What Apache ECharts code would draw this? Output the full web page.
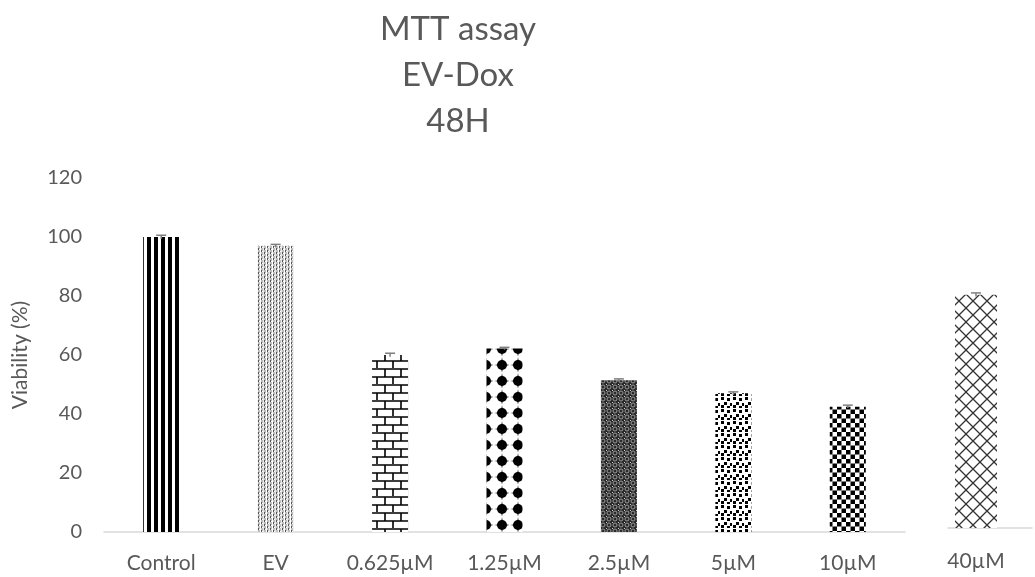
<!DOCTYPE html>
<html>
<head>
<meta charset="utf-8">
<script src="https://cdn.jsdelivr.net/npm/echarts@6/dist/echarts.min.js"></script>
<style>html,body{margin:0;padding:0;background:#fff;}#c{width:1035px;height:577px;}</style>
</head>
<body>
<div id="c"></div>
<script>
// ---- data ----
const titleLines = ['MTT assay', 'EV-Dox', '48H'];
const categories = ['Control', 'EV', '0.625µM', '1.25µM', '2.5µM', '5µM', '10µM', '40µM'];
const viability = [100, 97, 60, 62.2, 51.4, 47, 42.5, 80];
const errors = [0.6, 0.5, 0.6, 0.4, 0.5, 0.5, 0.5, 0.6];
const yTicks = [0, 20, 40, 60, 80, 100, 120];
const yAxisName = 'Viability (%)';

// ---- patterns ----
function pat(w, h, draw) {
  const c = document.createElement('canvas');
  c.width = w; c.height = h;
  const ctx = c.getContext('2d');
  ctx.fillStyle = '#fff'; ctx.fillRect(0, 0, w, h);
  draw(ctx, w, h);
  return { image: c, repeat: 'repeat' };
}
const patterns = [
  // vertical stripes
  pat(7, 2, (x) => { x.fillStyle = '#000'; x.fillRect(0, 0, 4, 2); }),
  // fine light grey texture
  pat(6, 4, (x) => {
    x.fillStyle = '#bdbdbd'; x.fillRect(0, 0, 6, 4);
    x.fillStyle = '#fff'; x.fillRect(1, 1, 1, 1); x.fillRect(4, 3, 1, 1); x.fillRect(2, 0, 1, 4);
    x.fillStyle = '#555'; x.fillRect(0, 0, 1, 2); x.fillRect(3, 2, 1, 2);
    x.fillStyle = '#e8e8e8'; x.fillRect(5, 0, 1, 4);
  }),
  // brick
  pat(16, 16, (x) => {
    x.strokeStyle = '#000'; x.lineWidth = 1.6;
    x.beginPath();
    x.moveTo(0, 1); x.lineTo(16, 1);
    x.moveTo(0, 9); x.lineTo(16, 9);
    x.moveTo(1, 1); x.lineTo(1, 9);
    x.moveTo(9, 9); x.lineTo(9, 16);
    x.stroke();
  }),
  // black dots with small spikes
  pat(16, 16, (x) => {
    const cx = 6, cy = 13;
    x.fillStyle = '#000';
    for (const dx of [-16, 0, 16]) for (const dy of [-16, 0, 16]) {
      const px = cx + dx, py = cy + dy;
      x.beginPath(); x.arc(px, py, 5, 0, Math.PI * 2); x.fill();
      x.beginPath();
      x.moveTo(px - 7.5, py); x.lineTo(px, py - 1.5); x.lineTo(px + 7.5, py); x.lineTo(px, py + 1.5); x.closePath(); x.fill();
      x.beginPath();
      x.moveTo(px, py - 7.5); x.lineTo(px - 1.5, py); x.lineTo(px, py + 7.5); x.lineTo(px + 1.5, py); x.closePath(); x.fill();
    }
  }),
  // dense dark weave
  pat(6, 6, (x) => {
    x.fillStyle = '#2a2a2a'; x.fillRect(0, 0, 6, 6);
    x.strokeStyle = '#9a9a9a'; x.lineWidth = 1;
    x.beginPath(); x.arc(3, 3, 2, 0, Math.PI * 2); x.stroke();
    x.fillStyle = '#cfcfcf'; x.fillRect(0, 0, 1, 1);
  }),
  // confetti squares
  pat(12, 12, (x) => {
    x.fillStyle = '#000';
    [[1, 1], [7, 2], [4, 6], [10, 7], [1, 9], [7, 10]].forEach(p => x.fillRect(p[0], p[1], 3, 3));
  }),
  // checkerboard
  pat(9, 9, (x) => { x.fillStyle = '#000'; x.fillRect(0, 0, 4.5, 4.5); x.fillRect(4.5, 4.5, 4.5, 4.5); }),
  // diagonal cross-hatch
  pat(14, 14, (x) => {
    x.strokeStyle = '#333'; x.lineWidth = 1.3;
    x.beginPath(); x.moveTo(0, 0); x.lineTo(14, 14); x.moveTo(14, 0); x.lineTo(0, 14); x.stroke();
  })
];

const FONT = 'Lato';
const TXT = '#595959';
const nMain = 7;
const mainCats = categories.slice(0, nMain);
const mainData = viability.slice(0, nMain).map((v, i) => ({ value: v, itemStyle: { color: patterns[i] } }));
const mainErr = viability.slice(0, nMain).map((v, i) => [i, v, errors[i]]);

// second panel (40µM) sits on its own short axis
const sideCats = ['', categories[7], '', ''];
const sideData = ['-', { value: viability[7], itemStyle: { color: patterns[7] } }, '-', '-'];
const sideErr = [[1, viability[7], errors[7]]];

function errRender(params, api) {
  const x = api.value(0), v = api.value(1), e = api.value(2);
  const top = api.coord([x, v + e]);
  const bot = api.coord([x, v - e]);
  const hw = 5;
  const style = { stroke: '#7f7f7f', lineWidth: 1.5 };
  return {
    type: 'group',
    children: [
      { type: 'line', shape: { x1: top[0], y1: top[1], x2: bot[0], y2: bot[1] }, style },
      { type: 'line', shape: { x1: top[0] - hw, y1: top[1], x2: top[0] + hw, y2: top[1] }, style }
    ]
  };
}

const chart = echarts.init(document.getElementById('c'));
chart.setOption({
  backgroundColor: '#fff',
  animation: false,
  title: {
    text: titleLines.join('\n'),
    left: 453, top: 1, textAlign: 'center',
    textStyle: { fontFamily: FONT, fontSize: 33, fontWeight: 'normal', color: TXT, lineHeight: 46 }
  },
  grid: [
    { left: 104, top: 178, width: 801, height: 354 },
    { left: 948, top: 178, width: 87, height: 350 }
  ],
  xAxis: [
    {
      gridIndex: 0, type: 'category', data: mainCats,
      axisLine: { lineStyle: { color: '#d9d9d9', width: 1.5 } },
      axisTick: { show: false },
      axisLabel: { color: TXT, fontFamily: FONT, fontSize: 21, margin: 21, interval: 0 }
    },
    {
      gridIndex: 1, type: 'category', data: sideCats, boundaryGap: false,
      axisLine: { lineStyle: { color: '#d9d9d9', width: 1.5 } },
      axisTick: { show: false },
      axisLabel: { color: TXT, fontFamily: FONT, fontSize: 21, margin: 23, interval: 0 }
    }
  ],
  yAxis: [
    {
      gridIndex: 0, type: 'value', min: yTicks[0], max: yTicks[yTicks.length - 1], interval: 20,
      name: yAxisName, nameLocation: 'middle', nameGap: 73, nameRotate: 90,
      nameTextStyle: { color: TXT, fontFamily: FONT, fontSize: 21 },
      axisLine: { show: false }, axisTick: { show: false }, splitLine: { show: false },
      axisLabel: { color: TXT, fontFamily: FONT, fontSize: 20, margin: 22 }
    },
    {
      gridIndex: 1, type: 'value', min: 0, max: 120, interval: 20, show: false
    }
  ],
  series: [
    { type: 'bar', xAxisIndex: 0, yAxisIndex: 0, data: mainData, barWidth: 36 },
    { type: 'custom', xAxisIndex: 0, yAxisIndex: 0, data: mainErr, renderItem: errRender, z: 5 },
    { type: 'bar', xAxisIndex: 1, yAxisIndex: 1, data: sideData, barWidth: 42 },
    { type: 'custom', xAxisIndex: 1, yAxisIndex: 1, data: sideErr, renderItem: errRender, z: 5 }
  ]
});
</script>
</body>
</html>
